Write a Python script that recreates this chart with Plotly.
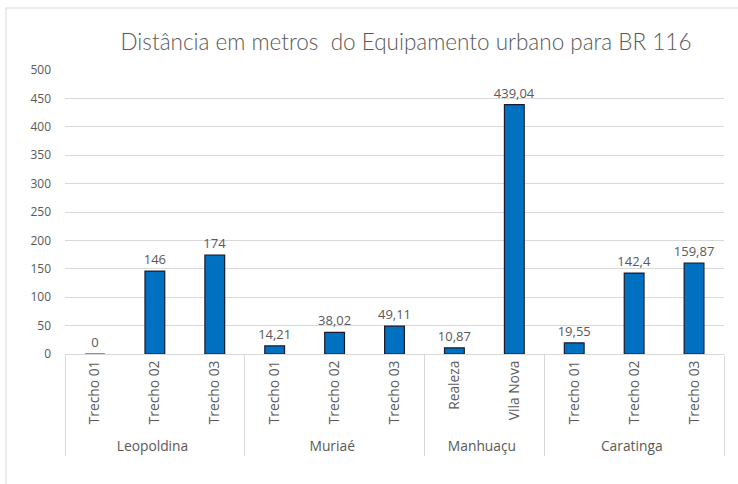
import plotly.graph_objects as go

cities = ["Leopoldina", "Leopoldina", "Leopoldina",
          "Muriaé", "Muriaé", "Muriaé",
          "Manhuaçu", "Manhuaçu",
          "Caratinga", "Caratinga", "Caratinga"]
trechos = ["Trecho 01", "Trecho 02", "Trecho 03",
           "Trecho 01", "Trecho 02", "Trecho 03",
           "Realeza", "Vila Nova",
           "Trecho 01", "Trecho 02", "Trecho 03"]
distancias = [0, 146, 174, 14.21, 38.02, 49.11, 10.87, 439.04, 19.55, 142.4, 159.87]
y_ticks = [0, 50, 100, 150, 200, 250, 300, 350, 400, 450, 500]

labels = [f"{v:g}".replace(".", ",") for v in distancias]

gray = "#595959"
axis_font = "'Open Sans', sans-serif"
title_font = "Lato, sans-serif"

fig = go.Figure()
fig.add_trace(go.Bar(
    x=[cities, trechos],
    y=distancias,
    width=0.33,
    marker=dict(color="#0070C0", line=dict(color="#1a1a2e", width=1.2)),
    text=labels,
    textposition="outside",
    constraintext="none",
    textfont=dict(color=gray, size=13, family=axis_font),
    cliponaxis=False,
    hoverinfo="x+y",
))

fig.update_layout(
    width=738, height=484,
    margin=dict(l=65, r=14, t=70, b=130),
    paper_bgcolor="white",
    plot_bgcolor="white",
    showlegend=False,
    bargap=0.67,
    title=dict(
        text="Distância em metros  do Equipamento urbano para BR 116",
        x=(406 - 65) / 659, xref="paper", xanchor="center",
        y=1 - 42 / 484, yanchor="middle",
        font=dict(size=22.5, color=gray, family=title_font, weight=300),
    ),
    xaxis=dict(
        type="multicategory",
        tickangle=-90,
        tickfont=dict(size=13.8, color=gray, family=axis_font),
        showline=True, linecolor="#d9d9d9", linewidth=1,
        showdividers=True, dividercolor="#d9d9d9", dividerwidth=1,
        ticks="",
        showgrid=False,
    ),
    yaxis=dict(
        range=[0, 500],
        tickvals=y_ticks,
        tickfont=dict(size=12, color=gray, family=axis_font),
        ticklabelstandoff=13,
        gridcolor="#d9d9d9", gridwidth=1,
        zeroline=False,
        showline=False,
        ticks="",
    ),
    shapes=[dict(
        type="rect", xref="paper", yref="paper",
        x0=(6 - 65) / 659, x1=(745 - 65) / 659,
        y0=(354 - 495) / 284, y1=(354 - 8) / 284,
        line=dict(color="#d9d9d9", width=1), layer="below",
    )],
)

fig.write_html("out.html", config={"displayModeBar": False},
               post_script="document.body.style.margin='0';")
